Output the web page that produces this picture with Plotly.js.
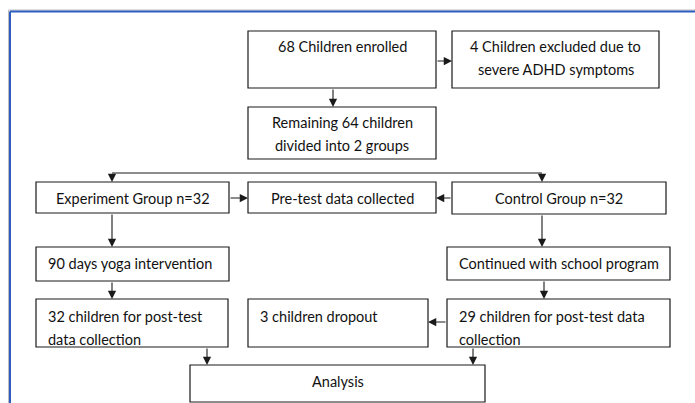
<!DOCTYPE html>
<html>
<head>
<meta charset="utf-8">
<script src="https://cdn.plot.ly/plotly-3.0.1.min.js"></script>
<style>html,body{margin:0;padding:0;background:#fff;}#chart{width:695px;height:403px;}</style>
</head>
<body>
<div id="chart"></div>
<script>
// ---- content (texts of the flowchart boxes) ----
var boxIds = ["A","B","C","D","E","F","G","H","I","J","K","L"];
var boxLines = [
  ["68 Children enrolled"],
  ["4 Children excluded due to", "severe ADHD symptoms"],
  ["Remaining 64 children", "divided into 2 groups"],
  ["Experiment Group n=32"],
  ["Pre-test data collected"],
  ["Control Group n=32"],
  ["90 days yoga intervention"],
  ["Continued with school program"],
  ["32 children for post-test", "data collection"],
  ["3 children dropout"],
  ["29 children for post-test data", "collection"],
  ["Analysis"]
];
// ---- connections (from box, to box) ----
var links = [["A","B"],["A","C"],["C","D"],["C","F"],["D","E"],["F","E"],["D","G"],["F","H"],["G","I"],["H","K"],["K","J"],["I","L"],["K","L"]];

// ---- geometry (pixel-based data coordinates) ----
var geom = {
  A:{x0:248,x1:436,y0:31,y1:88, align:"center", ty:46},
  B:{x0:452,x1:659,y0:31,y1:88, align:"center", ty:46},
  C:{x0:248,x1:436,y0:107,y1:159, align:"center", ty:122.5},
  D:{x0:36,x1:229,y0:182,y1:213, align:"center", ty:198},
  E:{x0:248,x1:436,y0:182,y1:213, align:"center", ty:198},
  F:{x0:452,x1:666,y0:182,y1:214, align:"center", ty:198},
  G:{x0:36,x1:229,y0:247,y1:281, align:"left", ty:263},
  H:{x0:447,x1:670,y0:247,y1:280, align:"left", ty:263},
  I:{x0:36,x1:228,y0:299,y1:347, align:"left", ty:316},
  J:{x0:248,x1:428,y0:299,y1:347, align:"left", ty:316},
  K:{x0:447,x1:670,y0:299,y1:347, align:"left", ty:316},
  L:{x0:190,x1:485,y0:365,y1:402, align:"center", ty:381}
};
var lineGap = 23, padL = 10;
// arrow paths for each link: [x_start,y_start,x_end,y_end]
var arrowPaths = {
  "A-B":[436,61,452,61],
  "A-C":[333,88,333,107],
  "C-D":[112,173,112,182],
  "C-F":[542,173,542,182],
  "D-E":[229,198,248,198],
  "F-E":[452,198,436,198],
  "D-G":[112,213,112,247],
  "F-H":[542,214,542,247],
  "G-I":[112,281,112,299],
  "H-K":[544,280,544,299],
  "K-J":[447,322,428,322],
  "I-L":[207,347,207,365],
  "K-L":[473,347,473,365]
};

var shapes = [];
var annotations = [];
var font = {family:"Lato, 'Open Sans', sans-serif", size:14.5, color:"#111111"};

// frame
shapes.push({type:"line", xref:"x", yref:"y", x0:8.5, x1:695, y0:10, y1:10, line:{color:"#bcbcbc", width:1}});
shapes.push({type:"line", xref:"x", yref:"y", x0:8.5, x1:8.5, y0:10, y1:403, line:{color:"#bcbcbc", width:1}});
shapes.push({type:"line", xref:"x", yref:"y", x0:10, x1:695, y0:11.5, y1:11.5, line:{color:"#2e5cbf", width:2}});
shapes.push({type:"line", xref:"x", yref:"y", x0:10, x1:10, y0:11.5, y1:403, line:{color:"#2e5cbf", width:2}});

boxIds.forEach(function(id, i){
  var g = geom[id];
  shapes.push({type:"rect", xref:"x", yref:"y", x0:g.x0, x1:g.x1, y0:g.y0, y1:g.y1,
    line:{color:"#1a1a1a", width:1.2}, fillcolor:"rgba(0,0,0,0)"});
  boxLines[i].forEach(function(t, k){
    var center = g.align === "center";
    annotations.push({xref:"x", yref:"y", x: center ? (g.x0+g.x1)/2 : g.x0+padL,
      y: g.ty + k*lineGap, text:t, showarrow:false,
      xanchor: center ? "center" : "left", yanchor:"middle", font:font});
  });
});

// split line for the two groups
shapes.push({type:"line", xref:"x", yref:"y", x0:112, x1:542, y0:173, y1:173, line:{color:"#1a1a1a", width:1.2}});

links.forEach(function(l){
  var p = arrowPaths[l[0]+"-"+l[1]];
  annotations.push({xref:"x", yref:"y", axref:"x", ayref:"y", x:p[2], y:p[3], ax:p[0], ay:p[1],
    text:"", showarrow:true, arrowhead:2, arrowsize:1.5, arrowwidth:1.1, arrowcolor:"#1a1a1a", standoff:0});
});

var layout = {
  width:695, height:403,
  margin:{l:0,r:0,t:0,b:0},
  paper_bgcolor:"#ffffff", plot_bgcolor:"#ffffff",
  xaxis:{range:[0,695], visible:false, fixedrange:true},
  yaxis:{range:[403,0], visible:false, fixedrange:true},
  shapes:shapes, annotations:annotations, showlegend:false
};
Plotly.newPlot("chart", [{x:[],y:[],type:"scatter",mode:"markers",hoverinfo:"skip"}], layout, {staticPlot:true, displayModeBar:false});
</script>
</body>
</html>
